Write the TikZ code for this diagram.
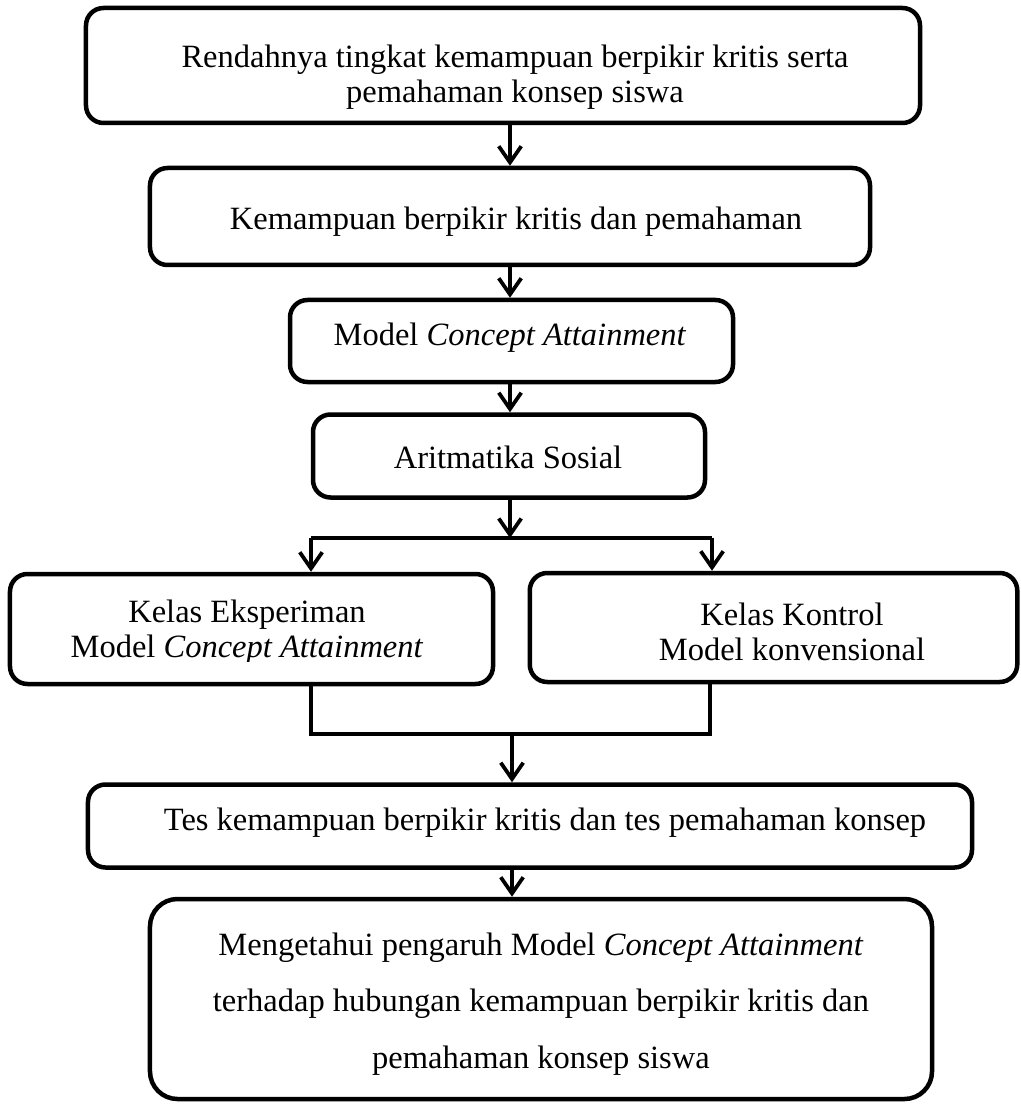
\documentclass[tikz,border=0pt]{standalone}
\usepackage{fontspec}
\setmainfont{Liberation Serif}
\usetikzlibrary{arrows.meta}
\begin{document}
\begin{tikzpicture}[x=0.4pt,y=-0.4pt,
  box/.style={draw,line width=1.8pt,rounded corners=7pt,inner sep=0pt,minimum width=#1},
  txt/.style={inner sep=0pt,align=center,font=\fontsize{13}{14}\selectfont},
  arr/.style={line width=1.5pt,-{Straight Barb[length=6.5pt,width=9pt,line width=1.5pt]}},
  ln/.style={line width=1.5pt}]
\useasboundingbox (0,0) rectangle (1020,1104);
% boxes
\node[box=333.6pt,minimum height=46pt] (b1) at (503,65.5) {};
\node[box=288pt,minimum height=38.8pt] (b2) at (510,216.5) {};
\node[box=177.2pt,minimum height=32.8pt] (b3) at (511.5,341) {};
\node[box=156.8pt,minimum height=33.2pt] (b4) at (509,456) {};
\node[box=193.2pt,minimum height=44pt] (b5) at (251.5,629) {};
\node[box=195pt,minimum height=43.6pt] (b6) at (773.5,627.5) {};
\node[box=353.6pt,minimum height=33.2pt] (b7) at (530,826) {};
\node[box=312.8pt,minimum height=80pt,rounded corners=11pt] (b8) at (541,999) {};
% texts
\node[txt] (t1) at (515,77) {Rendahnya tingkat kemampuan berpikir kritis serta\\pemahaman konsep siswa};
\node[txt] (t2) at (516,222) {Kemampuan berpikir kritis dan pemahaman};
\node[txt] (t3) at (510,338) {Model \textit{Concept Attainment}};
\node[txt] (t4) at (508,457) {Aritmatika Sosial};
\begin{scope}
\clip (10,560) rectangle (493,661);
\node[txt] (t5) at (247,632) {Kelas Eksperiman\\Model \textit{Concept Attainment}};
\end{scope}
\node[txt] (t6) at (792,632) {Kelas Kontrol\\Model konvensional};
\node[txt] (t7) at (545,823) {Tes kemampuan berpikir kritis dan tes pemahaman konsep};
\node[txt,font=\fontsize{13}{22.5}\selectfont] (t8) at (541,1004) {Mengetahui pengaruh Model \textit{Concept Attainment}\\terhadap hubungan kemampuan berpikir kritis dan\\pemahaman konsep siswa};
% connectors
\coordinate (sp) at (510,0);
\coordinate (j) at (510,538);
\coordinate (jl) at (311,538);
\coordinate (jr) at (712,538);
\coordinate (ml) at (311,734);
\coordinate (mr) at (710,734);
\coordinate (m) at (512,734);
\draw[arr] (b1.south -| sp) -- (b2.north -| sp);
\draw[arr] (b2.south -| sp) -- (b3.north -| sp);
\draw[arr] (b3.south -| sp) -- (b4.north -| sp);
\draw[arr] (b4.south -| sp) -- (j);
\draw[ln] (jl) -- (jr);
\draw[arr] (jl) -- (jl |- b5.north);
\draw[arr] (jr) -- (jr |- b6.north);
\draw[ln] (ml |- b5.south) -- (ml) -- (mr) -- (mr |- b6.south);
\draw[arr] (m) -- (b7.north -| m);
\draw[arr] (b7.south -| m) -- (b8.north -| m);
\end{tikzpicture}
\end{document}
